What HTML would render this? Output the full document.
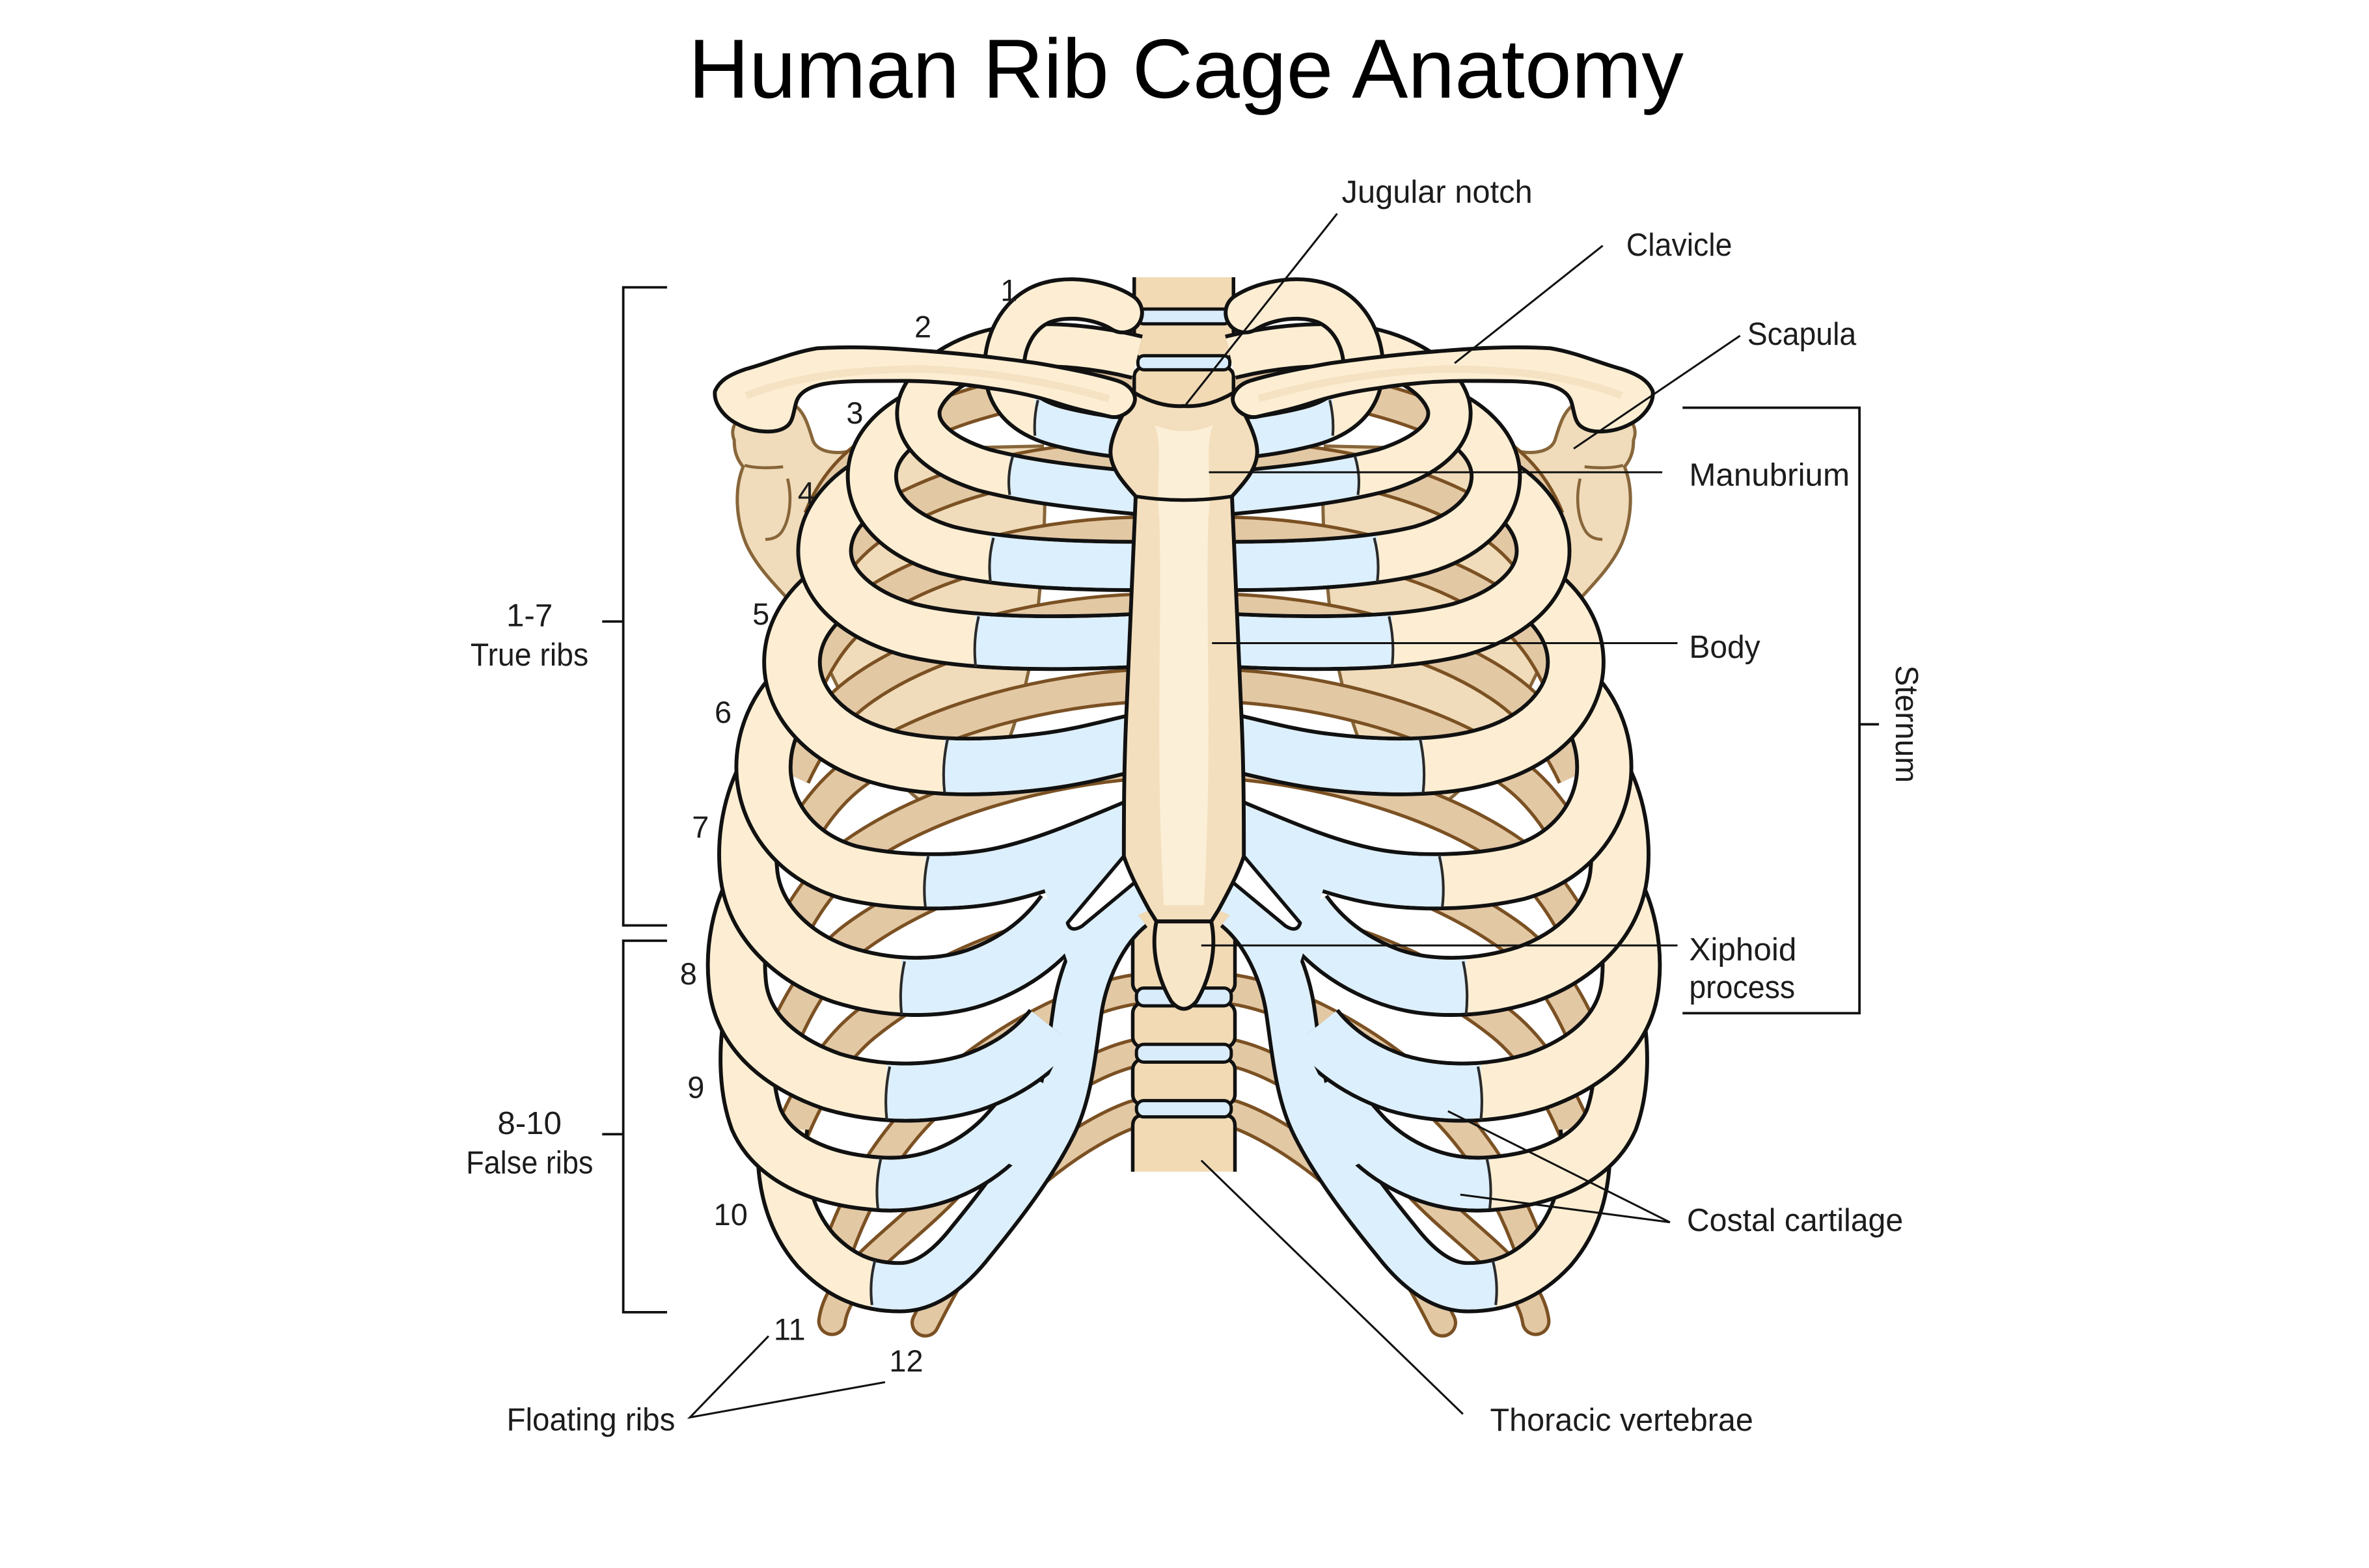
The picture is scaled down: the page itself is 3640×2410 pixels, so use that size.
<!DOCTYPE html>
<html><head><meta charset="utf-8">
<style>
html,body{margin:0;padding:0;background:#fff;}
svg{display:block;}
text{font-family:"Liberation Sans",Arial,sans-serif;fill:#1c1c1c;}
</style></head>
<body>
<svg xmlns="http://www.w3.org/2000/svg" width="3640" height="2410" viewBox="0 0 1552 1027.6">
<defs>
<clipPath id="c1"><rect x="685" y="255" width="120" height="50"/></clipPath>
<clipPath id="c2"><rect x="668" y="295" width="130" height="50"/></clipPath>
<clipPath id="c3"><rect x="655" y="345" width="140" height="55"/></clipPath>
<clipPath id="c4"><rect x="645" y="395" width="150" height="65"/></clipPath>
<clipPath id="c5"><rect x="624" y="470" width="170" height="80"/></clipPath>
<clipPath id="c6"><rect x="611" y="520" width="180" height="90"/></clipPath>
<clipPath id="c7"><rect x="595" y="590" width="200" height="100"/></clipPath>
<clipPath id="c8"><rect x="585" y="650" width="200" height="110"/></clipPath>
<clipPath id="c9"><rect x="579" y="700" width="200" height="130"/></clipPath>
<clipPath id="c10"><rect x="575" y="560" width="220" height="340"/></clipPath>

<!-- back parts, upper frame -->
<g id="backU">
 <path d="M482,292 C478,282 486,273 500,271 L522,268 C529,272 532,282 535,292 C538,300 550,302 562,299 L690,296 C694,330 690,380 686,415 C682,450 672,490 655,522 C645,540 630,546 615,540 C595,530 575,500 555,465 L528,410 C515,395 498,380 490,362 C483,345 482,325 488,310 C483,304 482,298 482,292 Z" fill="#f0dcbb" stroke="#87663a" stroke-width="2.2"/>
 <path d="M489,309 C496,311 506,311 515,310" fill="none" stroke="#87663a" stroke-width="2"/>
 <path d="M518,318 C521,330 520,345 514,354 C511,358 507,359 503,359" fill="none" stroke="#87663a" stroke-width="2"/>
 <g fill="none">
  <path d="M752,252 C700,252 630,264 580,297 C560,310 548,325 540,345" stroke="#7b5123" stroke-width="24"/>
  <path d="M752,252 C700,252 630,264 580,297 C560,310 548,325 540,345" stroke="#e3c8a4" stroke-width="19.5"/>
  <path d="M752,304 C700,304 628,316 578,349 C558,362 545,380 536,400" stroke="#7b5123" stroke-width="24"/>
  <path d="M752,304 C700,304 628,316 578,349 C558,362 545,380 536,400" stroke="#e3c8a4" stroke-width="19.5"/>
  <path d="M752,355 C700,356 625,369 574,403 C553,417 540,436 530,459" stroke="#7b5123" stroke-width="24"/>
  <path d="M752,355 C700,356 625,369 574,403 C553,417 540,436 530,459" stroke="#e3c8a4" stroke-width="19.5"/>
  <path d="M752,407 C700,409 622,423 570,459 C548,474 533,495 522,519" stroke="#7b5123" stroke-width="24"/>
  <path d="M752,407 C700,409 622,423 570,459 C548,474 533,495 522,519" stroke="#e3c8a4" stroke-width="19.5"/>
  <path d="M752,458 C700,461 620,477 566,515 C543,531 528,555 516,581" stroke="#7b5123" stroke-width="24"/>
  <path d="M752,458 C700,461 620,477 566,515 C543,531 528,555 516,581" stroke="#e3c8a4" stroke-width="19.5"/>
  <path d="M752,510 C700,514 618,532 562,572 C540,588 524,614 512,642" stroke="#7b5123" stroke-width="24"/>
  <path d="M752,510 C700,514 618,532 562,572 C540,588 524,614 512,642" stroke="#e3c8a4" stroke-width="19.5"/>
  <path d="M752,561 C700,566 618,587 562,629 C540,646 524,673 512,703" stroke="#7b5123" stroke-width="24"/>
  <path d="M752,561 C700,566 618,587 562,629 C540,646 524,673 512,703" stroke="#e3c8a4" stroke-width="19.5"/>
  <path d="M752,613 C702,619 624,643 570,687 C548,705 530,735 518,767" stroke="#7b5123" stroke-width="24"/>
  <path d="M752,613 C702,619 624,643 570,687 C548,705 530,735 518,767" stroke="#e3c8a4" stroke-width="19.5"/>
 </g>
</g>

<!-- back parts, lower frame -->
<g id="backL" fill="none">
 <path d="M752,652 C712,658 650,690 605,738 C580,765 560,800 548,840" stroke="#7b5123" stroke-width="22"/>
 <path d="M752,652 C712,658 650,690 605,738 C580,765 560,800 548,840" stroke="#e3c8a4" stroke-width="17.5"/>
 <path d="M752,695 C718,703 668,735 628,785 C595,820 552,845 548,876" stroke="#7b5123" stroke-width="20" stroke-linecap="round"/>
 <path d="M752,695 C718,703 668,735 628,785 C595,820 552,845 548,876" stroke="#e3c8a4" stroke-width="15.5" stroke-linecap="round"/>
 <path d="M752,736 C725,745 680,775 652,810 C635,832 622,855 611,877" stroke="#7b5123" stroke-width="20" stroke-linecap="round"/>
 <path d="M752,736 C725,745 680,775 652,810 C635,832 622,855 611,877" stroke="#e3c8a4" stroke-width="15.5" stroke-linecap="round"/>
</g>

<!-- lower ribs (6-10) + costal cartilage, lower frame -->
<g id="ribsL" fill="none">
 <path d="M515,745 C512,775 517,805 537,828 C554,846 572,853 594,853 C612,853 628,840 642,822 C660,800 685,768 698,740 C708,718 710,690 714,664 C718,640 730,612 750,596" stroke="#111" stroke-width="35.2"/>
 <path d="M515,745 C512,775 517,805 537,828 C554,846 572,853 594,853 C612,853 628,840 642,822 C660,800 685,768 698,740 C708,718 710,690 714,664 C718,640 730,612 750,596" stroke="#fdeed3" stroke-width="30"/>
 <path d="M515,745 C512,775 517,805 537,828 C554,846 572,853 594,853 C612,853 628,840 642,822 C660,800 685,768 698,740 C708,718 710,690 714,664 C718,640 730,612 750,596" stroke="#dceffd" stroke-width="30" clip-path="url(#c10)"/>
 <path d="M577,835 Q573,850 575,865" stroke="#2a2a2a" stroke-width="1.8"/>

 <path d="M494,665 C489,690 489,718 497,740 C508,765 538,780 578,783 C612,786 642,772 662,752 C676,737 685,725 690,715" stroke="#111" stroke-width="38.2"/>
 <path d="M494,665 C489,690 489,718 497,740 C508,765 538,780 578,783 C612,786 642,772 662,752 C676,737 685,725 690,715" stroke="#fdeed3" stroke-width="33"/>
 <path d="M494,665 C489,690 489,718 497,740 C508,765 538,780 578,783 C612,786 642,772 662,752 C676,737 685,725 690,715" stroke="#dceffd" stroke-width="33" clip-path="url(#c9)"/>
 <path d="M581,766 Q577,783 579,800" stroke="#2a2a2a" stroke-width="1.8"/>

 <path d="M498,580 C486,600 482,625 484,646 C486,676 508,700 548,714 C578,723 612,724 642,715 C668,706 685,693 697,678" stroke="#111" stroke-width="41.2"/>
 <path d="M498,580 C486,600 482,625 484,646 C486,676 508,700 548,714 C578,723 612,724 642,715 C668,706 685,693 697,678" stroke="#fdeed3" stroke-width="36"/>
 <path d="M498,580 C486,600 482,625 484,646 C486,676 508,700 548,714 C578,723 612,724 642,715 C668,706 685,693 697,678" stroke="#dceffd" stroke-width="36" clip-path="url(#c8)"/>
 <path d="M587,704 Q583,722 585,740" stroke="#2a2a2a" stroke-width="1.8"/>

 <path d="M505,505 C494,525 489,550 492,575 C496,605 520,630 555,642 C590,653 625,652 650,642 C675,632 692,618 705,600" stroke="#111" stroke-width="41.2"/>
 <path d="M505,505 C494,525 489,550 492,575 C496,605 520,630 555,642 C590,653 625,652 650,642 C675,632 692,618 705,600" stroke="#fdeed3" stroke-width="36"/>
 <path d="M505,505 C494,525 489,550 492,575 C496,605 520,630 555,642 C590,653 625,652 650,642 C675,632 692,618 705,600" stroke="#dceffd" stroke-width="36" clip-path="url(#c7)"/>
 <path d="M597,633 Q593,651 595,669" stroke="#2a2a2a" stroke-width="1.8"/>

 <path d="M530,444 C510,459 500,484 502,508 C505,537 525,563 560,573 C590,580 630,581 660,575 C690,569 720,556 758,540" stroke="#111" stroke-width="39.2"/>
 <path d="M530,444 C510,459 500,484 502,508 C505,537 525,563 560,573 C590,580 630,581 660,575 C690,569 720,556 758,540" stroke="#fdeed3" stroke-width="34"/>
 <path d="M530,444 C510,459 500,484 502,508 C505,537 525,563 560,573 C590,580 630,581 660,575 C690,569 720,556 758,540" stroke="#dceffd" stroke-width="34" clip-path="url(#c6)"/>
 <path d="M613,562 Q609,579 611,596" stroke="#2a2a2a" stroke-width="1.8"/>

 <!-- costal web -->
 <path d="M690.6,581.8 L707.2,634.2 L701.3,696 L665.6,768.6 L684,778 L700,752 L712,720 L718,690 L722,664 L728,636 L744,610 L752,603 L767,596 L760,585 L752,579 L745,562 L742,548 L700,570 Z" fill="#dceffd" stroke="none"/>
 <path d="M745,562 L707,607 Q709,614 717,609 L752,580" fill="#fff" stroke="#111" stroke-width="2.4" stroke-linejoin="round"/>
</g>

<!-- upper ribs (1-5), upper frame -->
<g id="ribsU" fill="none">
 <path d="M558,388 C538,398 521,418 521,442 C521,470 545,495 580,505 C610,514 650,514 690,509 C715,506 735,500 758,495" stroke="#111" stroke-width="40.2"/>
 <path d="M558,388 C538,398 521,418 521,442 C521,470 545,495 580,505 C610,514 650,514 690,509 C715,506 735,500 758,495" stroke="#fdeed3" stroke-width="35"/>
 <path d="M558,388 C538,398 521,418 521,442 C521,470 545,495 580,505 C610,514 650,514 690,509 C715,506 735,500 758,495" stroke="#dceffd" stroke-width="35" clip-path="url(#c5)"/>
 <path d="M626,494 Q622,512 624,530" stroke="#2a2a2a" stroke-width="1.8"/>

 <path d="M580,318 C560,328 543,345 543,367 C543,390 565,410 600,420 C640,430 700,430 758,427" stroke="#111" stroke-width="38.2"/>
 <path d="M580,318 C560,328 543,345 543,367 C543,390 565,410 600,420 C640,430 700,430 758,427" stroke="#fdeed3" stroke-width="33"/>
 <path d="M580,318 C560,328 543,345 543,367 C543,390 565,410 600,420 C640,430 700,430 758,427" stroke="#dceffd" stroke-width="33" clip-path="url(#c4)"/>
 <path d="M647,411 Q643,428 645,445" stroke="#2a2a2a" stroke-width="1.8"/>

 <path d="M612,272 C590,282 574,298 575,318 C576,340 595,357 625,366 C660,375 710,377 758,377" stroke="#111" stroke-width="35.2"/>
 <path d="M612,272 C590,282 574,298 575,318 C576,340 595,357 625,366 C660,375 710,377 758,377" stroke="#fdeed3" stroke-width="30"/>
 <path d="M612,272 C590,282 574,298 575,318 C576,340 595,357 625,366 C660,375 710,377 758,377" stroke="#dceffd" stroke-width="30" clip-path="url(#c3)"/>
 <path d="M657,358 Q653,373 655,388" stroke="#2a2a2a" stroke-width="1.8"/>

 <path d="M754,236 C730,230 700,226 670,229 C645,232 614,246 607,268 C602,288 622,303 650,312 C680,320 715,324 758,328" stroke="#111" stroke-width="31.2"/>
 <path d="M754,236 C730,230 700,226 670,229 C645,232 614,246 607,268 C602,288 622,303 650,312 C680,320 715,324 758,328" stroke="#fdeed3" stroke-width="26"/>
 <path d="M754,236 C730,230 700,226 670,229 C645,232 614,246 607,268 C602,288 622,303 650,312 C680,320 715,324 758,328" stroke="#dceffd" stroke-width="26" clip-path="url(#c2)"/>
 <path d="M670,303 Q666,316 668,329" stroke="#2a2a2a" stroke-width="1.8"/>

 <path d="M744,206 C730,197 705,193 688,201 C670,210 662,232 665,250 C668,268 682,278 702,283 C722,288 738,290 752,291" stroke="#111" stroke-width="29.2" stroke-linecap="round"/>
 <path d="M744,206 C730,197 705,193 688,201 C670,210 662,232 665,250 C668,268 682,278 702,283 C722,288 738,290 752,291" stroke="#fdeed3" stroke-width="24" stroke-linecap="round"/>
 <path d="M744,206 C730,197 705,193 688,201 C670,210 662,232 665,250 C668,268 682,278 702,283 C722,288 738,290 752,291" stroke="#dceffd" stroke-width="24" clip-path="url(#c1)"/>
 <path d="M687,265 Q684,277 685,289" stroke="#2a2a2a" stroke-width="1.8"/>
</g>

<g id="clav">
 <path d="M469,259 C472,252 478,248 490,244 C505,240 520,233 538,230 C570,228 600,231 614,232 C640,234 665,237 686,240 C710,244 728,248 741,252 C750,255 754,262 752,267 C750,273 742,278 735,276 C722,273 712,271 700,267 C685,262 670,259 655,257 C630,253 610,252 595,252 C570,252 555,252 543,254 C532,256 526,260 524,266 C522,272 522,280 517,283 C510,288 495,287 484,281 C476,277 468,268 469,259 Z" fill="#fdeed3" stroke="#111" stroke-width="2.6"/>
 <path d="M490,262 C520,250 560,244 610,244 C660,246 700,254 735,264" fill="none" stroke="#f5e2c3" stroke-width="5"/>
</g>
</defs>

<rect width="1552" height="1027.6" fill="#fff"/>

<!-- back: scapulae and posterior ribs -->
<g transform="matrix(0.9706 0 0 0.9706 13.17 5.02)">
 <use href="#backU"/>
 <use href="#backU" transform="matrix(-1 0 0 1 1571 0)"/>
</g>
<g transform="matrix(0.9706 0 0 0.9706 13.17 15.67)">
 <use href="#backL"/>
 <use href="#backL" transform="matrix(-1 0 0 1 1571 0)"/>
 <!-- lower thoracic vertebrae -->
 <g fill="#f1dab4" stroke="#111" stroke-width="2.4">
  <rect x="751" y="585" width="69" height="70" rx="7"/>
  <rect x="751" y="661" width="69" height="30" rx="7"/>
  <rect x="751" y="699" width="69" height="31" rx="7"/>
  <path d="M751,775 L751,744 Q751,737 758,737 L813,737 Q820,737 820,744 L820,775 Z" stroke="none"/>
  <path d="M751,775 L751,744 Q751,737 758,737 L813,737 Q820,737 820,744 L820,775" fill="none"/>
 </g>
 <g fill="#d9ecfb" stroke="#111" stroke-width="2.2">
  <rect x="753.5" y="651" width="64" height="12" rx="5"/>
  <rect x="753.5" y="689" width="64" height="12" rx="5"/>
  <rect x="753.5" y="727" width="64" height="11" rx="5"/>
 </g>
</g>

<!-- upper vertebrae -->
<g transform="matrix(0.9706 0 0 0.9706 13.17 5.02)" stroke="#111" stroke-width="2.4">
 <path d="M752,182 L752,199 Q752,206 759,206 L812,206 Q819,206 819,199 L819,182 Z" fill="#f1dab4" stroke="none"/>
 <path d="M752,182 L752,199 Q752,206 759,206 L812,206 Q819,206 819,199 L819,182" fill="none"/>
 <rect x="752" y="212" width="67" height="25" rx="6" fill="#f1dab4"/>
 <rect x="752" y="243" width="67" height="40" rx="6" fill="#f1dab4"/>
 <rect x="754.5" y="203.5" width="62" height="10" rx="4" fill="#d9ecfb" stroke-width="2.2"/>
 <rect x="754.5" y="235" width="62" height="9.5" rx="4" fill="#d9ecfb" stroke-width="2.2"/>
</g>

<!-- lower ribs -->
<g transform="matrix(0.9706 0 0 0.9706 13.17 15.67)">
 <use href="#ribsL"/>
 <use href="#ribsL" transform="matrix(-1 0 0 1 1571 0)"/>
</g>

<!-- upper ribs, sternum, clavicles -->
<g transform="matrix(0.9706 0 0 0.9706 13.17 5.02)">
 <use href="#ribsU"/>
 <use href="#ribsU" transform="matrix(-1 0 0 1 1571 0)"/>
 <path d="M752,260 Q769,270 785.5,269 Q802,270 819,260 C825,272 835,288 835,300 C835,312 825,322 818,330 C819,360 821,410 824,470 C826,510 826,545 826,573 C822,585 815,598 809,609 L804,617 L767,617 L762,609 C756,598 749,585 745,573 C745,545 745,510 747,470 C750,410 752,360 753,330 C746,322 736,312 736,300 C736,288 746,272 752,260 Z" fill="#f3dfbd" stroke="#111" stroke-width="2.6" stroke-linejoin="round"/>
 <path d="M766,282 C772,300 766,318 769,345 C771,420 766,500 772,606 L799,606 C805,500 800,420 802,345 C805,318 799,300 805,282 Q785.5,290 766,282 Z" fill="#fcefd7"/>
 <path d="M753,330 Q785.5,335 818,330" fill="none" stroke="#111" stroke-width="2.4"/>
 <path d="M767,617 C763,636 768,656 777,671 Q785.5,681 794,671 C803,656 808,636 804,617 Z" fill="#f8e6c8" stroke="#111" stroke-width="2.6" stroke-linejoin="round"/>
 <use href="#clav"/>
 <use href="#clav" transform="matrix(-1 0 0 1 1571 0)"/>
</g>

<!-- leader lines -->
<g stroke="#111" stroke-width="1.3" fill="none">
 <path d="M876,140 L777,265"/>
 <path d="M1050,161 L953,238"/>
 <path d="M1140,220 L1031,294"/>
 <path d="M792,309.5 L1089,309.5"/>
 <path d="M794,421.5 L1099,421.5"/>
 <path d="M787,619.6 L1099,619.6"/>
 <path d="M948.6,728.2 L1094,801 L956.7,782.9"/>
 <path d="M787,760.5 L958.4,926.7"/>
 <path d="M503.5,875.6 L452,928.9 L579.8,905.8"/>
</g>
<!-- brackets -->
<g stroke="#111" stroke-width="1.6" fill="none">
 <path d="M437,188.3 H408.3 V606.5 H437"/>
 <path d="M394.5,407.3 H408.3"/>
 <path d="M437,616.5 H408.3 V860 H437"/>
 <path d="M394.5,743.3 H408.3"/>
 <path d="M1102.3,267.2 H1218.2 V664 H1102.3"/>
 <path d="M1218.2,474.7 H1231"/>
</g>

<!-- title -->
<text x="777" y="64" font-size="55" text-anchor="middle" textLength="652" lengthAdjust="spacingAndGlyphs" style="fill:#000">Human Rib Cage Anatomy</text>

<!-- labels -->
<g font-size="21">
 <text x="879" y="132.8" textLength="125" lengthAdjust="spacingAndGlyphs">Jugular notch</text>
 <text x="1065.4" y="167.5" textLength="69.4" lengthAdjust="spacingAndGlyphs">Clavicle</text>
 <text x="1144.7" y="226" textLength="71.4" lengthAdjust="spacingAndGlyphs">Scapula</text>
 <text x="1106.6" y="318.4" textLength="105.2" lengthAdjust="spacingAndGlyphs">Manubrium</text>
 <text x="1106.6" y="431.1" textLength="46.6" lengthAdjust="spacingAndGlyphs">Body</text>
 <text x="1106.6" y="629.3" textLength="70.4" lengthAdjust="spacingAndGlyphs">Xiphoid</text>
 <text x="1106.6" y="654.1" textLength="69.4" lengthAdjust="spacingAndGlyphs">process</text>
 <text x="1105.1" y="806.7" textLength="141.7" lengthAdjust="spacingAndGlyphs">Costal cartilage</text>
 <text x="976.2" y="937.6" textLength="172.4" lengthAdjust="spacingAndGlyphs">Thoracic vertebrae</text>
 <text x="331.9" y="937.4" textLength="110.4" lengthAdjust="spacingAndGlyphs">Floating ribs</text>
 <text x="346.9" y="410.3" text-anchor="middle">1-7</text>
 <text x="308.2" y="436.1" textLength="77.3" lengthAdjust="spacingAndGlyphs">True ribs</text>
 <text x="346.9" y="743.3" text-anchor="middle">8-10</text>
 <text x="305.3" y="769.1" textLength="83.3" lengthAdjust="spacingAndGlyphs">False ribs</text>
 <text transform="translate(1242,436) rotate(90)" textLength="77" lengthAdjust="spacingAndGlyphs">Sternum</text>
</g>
<g font-size="20" text-anchor="middle" style="fill:#000">
 <text x="661" y="197.2">1</text>
 <text x="604.6" y="221">2</text>
 <text x="560" y="277.5">3</text>
 <text x="528.2" y="330">4</text>
 <text x="498.5" y="409.3">5</text>
 <text x="473.7" y="473.7">6</text>
 <text x="458.9" y="549">7</text>
 <text x="451" y="645.2">8</text>
 <text x="455.9" y="719.5">9</text>
 <text x="478.7" y="802.8">10</text>
 <text x="517.3" y="878.1">11</text>
 <text x="593.7" y="898.9">12</text>
</g>
</svg>
</body></html>
